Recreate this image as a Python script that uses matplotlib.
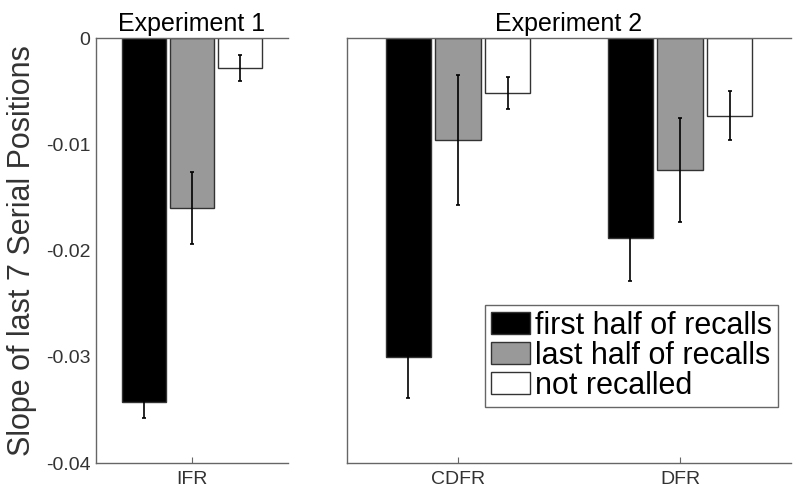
import numpy as np
import matplotlib
matplotlib.use("Agg")
import matplotlib.pyplot as plt

plt.rcParams['font.family'] = ['Liberation Sans', 'DejaVu Sans']

# Данные
series = ['first half of recalls', 'last half of recalls', 'not recalled']
colors = ['#000000', '#999999', '#ffffff']

exp1_conditions = ['IFR']
exp1_means = [[-0.0343], [-0.0160], [-0.0028]]
exp1_errors = [[0.0015], [0.0034], [0.0012]]

exp2_conditions = ['CDFR', 'DFR']
exp2_means = [[-0.0300, -0.0188], [-0.0096, -0.0124], [-0.0052, -0.0073]]
exp2_errors = [[0.0039, 0.0041], [0.0061, 0.0049], [0.0015, 0.0023]]

y_ticks = [-0.04, -0.03, -0.02, -0.01, 0]
y_tick_labels = ['-0.04', '-0.03', '-0.02', '-0.01', '0']

fig = plt.figure(figsize=(8, 4.95), dpi=100)
ax1 = fig.add_axes([0.12, 0.0646, 0.24, 0.8586])
ax2 = fig.add_axes([0.43375, 0.0646, 0.555, 0.8586])

spine_color = '#666666'


def draw_panel(ax, conditions, means, errors, offset, width, title):
    x = np.arange(1, len(conditions) + 1)
    for k in range(len(series)):
        pos = x + (k - 1) * offset
        ax.bar(pos, means[k], width, color=colors[k], edgecolor='#333333',
               linewidth=1.0, label=series[k], zorder=2)
        ax.errorbar(pos, means[k], yerr=errors[k], fmt='none', ecolor='black',
                    elinewidth=1.2, capsize=1.5, capthick=1.2, zorder=3)
    ax.set_xlim(0.5, len(conditions) + 0.5)
    ax.set_ylim(-0.04, 0)
    ax.set_xticks(x)
    ax.set_xticklabels(conditions, fontsize=14, color='#333333')
    ax.set_title(title, fontsize=18, pad=5)
    ax.spines['right'].set_visible(False)
    for s in ['left', 'top', 'bottom']:
        ax.spines[s].set_color(spine_color)
        ax.spines[s].set_linewidth(1.0)
    ax.tick_params(axis='x', direction='in', length=4, color=spine_color, pad=6)
    ax.tick_params(axis='y', length=0)


draw_panel(ax1, exp1_conditions, exp1_means, exp1_errors, 0.25, 0.23, 'Experiment 1')
draw_panel(ax2, exp2_conditions, exp2_means, exp2_errors, 0.224, 0.204, 'Experiment 2')

ax1.set_yticks(y_ticks)
ax1.set_yticklabels(y_tick_labels, fontsize=14, color='#333333')
ax1.tick_params(axis='y', pad=4)
ax1.set_ylabel('Slope of last 7 Serial Positions', fontsize=22, color='#333333', labelpad=6)

ax2.set_yticks(y_ticks)
ax2.set_yticklabels([])

leg = ax2.legend(loc='lower right', bbox_to_anchor=(0.971, 0.132), borderaxespad=0,
                 fontsize=22, frameon=True, fancybox=False, framealpha=1,
                 edgecolor=spine_color, handlelength=1.3, handleheight=0.75,
                 handletextpad=0.15, borderpad=0.2, labelspacing=0.0)
leg.get_frame().set_linewidth(1.0)

fig.savefig('out.png', dpi=100)
